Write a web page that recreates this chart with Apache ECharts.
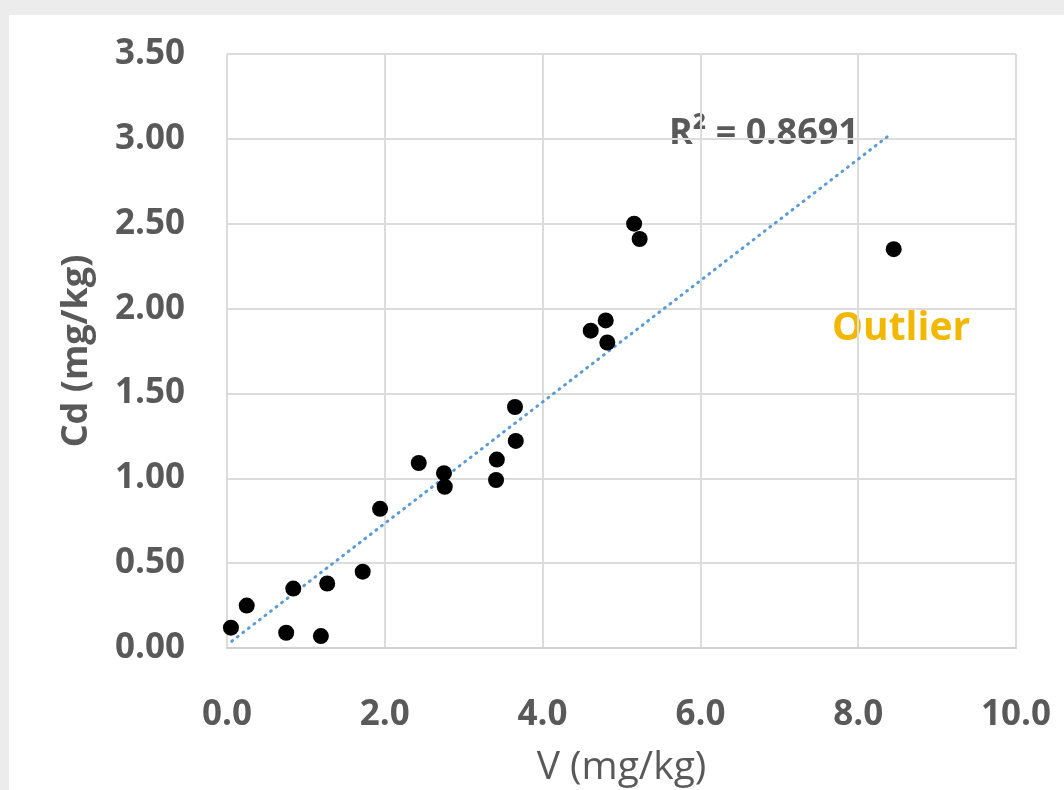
<!DOCTYPE html>
<html>
<head>
<meta charset="utf-8">
<script src="https://cdn.jsdelivr.net/npm/echarts@6/dist/echarts.min.js"></script>
<style>
  html, body { margin: 0; padding: 0; background: #ececec; }
  #card { position: absolute; left: 9px; top: 15px; width: 1055px; height: 775px; background: #fff; }
  #chart { position: absolute; left: 0; top: 0; width: 1064px; height: 790px; }
</style>
</head>
<body>
<div id="card"></div>
<div id="chart"></div>
<script>
// V (mg/kg) vs Cd (mg/kg)
var vValues = [0.05, 0.25, 0.75, 0.84, 1.19, 1.27, 1.72, 1.94, 2.43, 2.75, 2.76, 3.41, 3.42, 3.65, 3.66, 4.61, 4.80, 4.82, 5.16, 5.23, 8.45]
var cdValues = [0.12, 0.25, 0.09, 0.35, 0.07, 0.38, 0.45, 0.82, 1.09, 1.03, 0.95, 0.99, 1.11, 1.42, 1.22, 1.87, 1.93, 1.80, 2.50, 2.41, 2.35]
// linear trendline ends
var trendV = [0.06, 8.39]
var trendCd = [0.04, 3.02]
var xTicks = [0, 2, 4, 6, 8, 10]
var yTicks = [0, 0.5, 1, 1.5, 2, 2.5, 3, 3.5]
var r2Text = 'R² = 0.8691'
var outlierText = 'Outlier'

var points = vValues.map(function (v, i) { return [v, cdValues[i]] })
var trend = trendV.map(function (v, i) { return [v, trendCd[i]] })

var myChart = echarts.init(document.getElementById('chart'))
var font = '"Open Sans", "Noto Sans", sans-serif'
var option = {
  backgroundColor: 'transparent',
  animation: false,
  grid: { left: 227, right: 48, top: 54, bottom: 142, outerBoundsMode: 'none', containLabel: false },
  xAxis: {
    type: 'value',
    min: xTicks[0],
    max: xTicks[xTicks.length - 1],
    interval: 2,
    name: 'V (mg/kg)',
    nameLocation: 'middle',
    nameGap: 100,
    nameTextStyle: { color: '#595959', fontSize: 39, fontFamily: font },
    axisLine: { show: true, lineStyle: { color: '#d0d0d0', width: 2 } },
    axisTick: { show: false },
    axisLabel: {
      color: '#595959', fontSize: 35, fontWeight: 'bold', fontFamily: font, margin: 50,
      formatter: function (v) { return v.toFixed(1) }
    },
    splitLine: { show: true, lineStyle: { color: '#dcdcdc', width: 2 } }
  },
  yAxis: {
    type: 'value',
    min: yTicks[0],
    max: yTicks[yTicks.length - 1],
    interval: 0.5,
    name: 'Cd (mg/kg)',
    nameLocation: 'middle',
    nameGap: 132,
    nameTextStyle: { color: '#595959', fontSize: 36, fontWeight: 'bold', fontFamily: font },
    axisLine: { show: false },
    axisTick: { show: false },
    axisLabel: {
      color: '#595959', fontSize: 35, fontWeight: 'bold', fontFamily: font, margin: 42,
      formatter: function (v) { return v.toFixed(2) }
    },
    splitLine: { show: true, lineStyle: { color: '#dcdcdc', width: 2 } }
  },
  graphic: [
    {
      type: 'text', left: 669, top: 116, silent: true,
      style: { text: r2Text, fill: '#595959', font: 'bold 36px ' + font }
    },
    {
      type: 'text', left: 832, top: 309, silent: true,
      style: { text: outlierText, fill: '#f2b800', font: 'bold 39px ' + font }
    },
    {
      type: 'line', silent: true,
      shape: { x1: 1016, y1: 54, x2: 1016, y2: 648 },
      style: { stroke: '#dcdcdc', lineWidth: 2 }
    }
  ],
  series: [
    {
      name: 'trend',
      type: 'line',
      data: trend,
      symbol: 'none',
      lineStyle: { color: '#5b9bd5', width: 3, type: [1, 6], cap: 'round' },
      z: 3
    },
    {
      name: 'Cd',
      type: 'scatter',
      data: points,
      symbol: 'circle',
      symbolSize: 16,
      itemStyle: { color: '#000', opacity: 1 },
      z: 4
    }
  ]
}
myChart.setOption(option)
</script>
</body>
</html>
